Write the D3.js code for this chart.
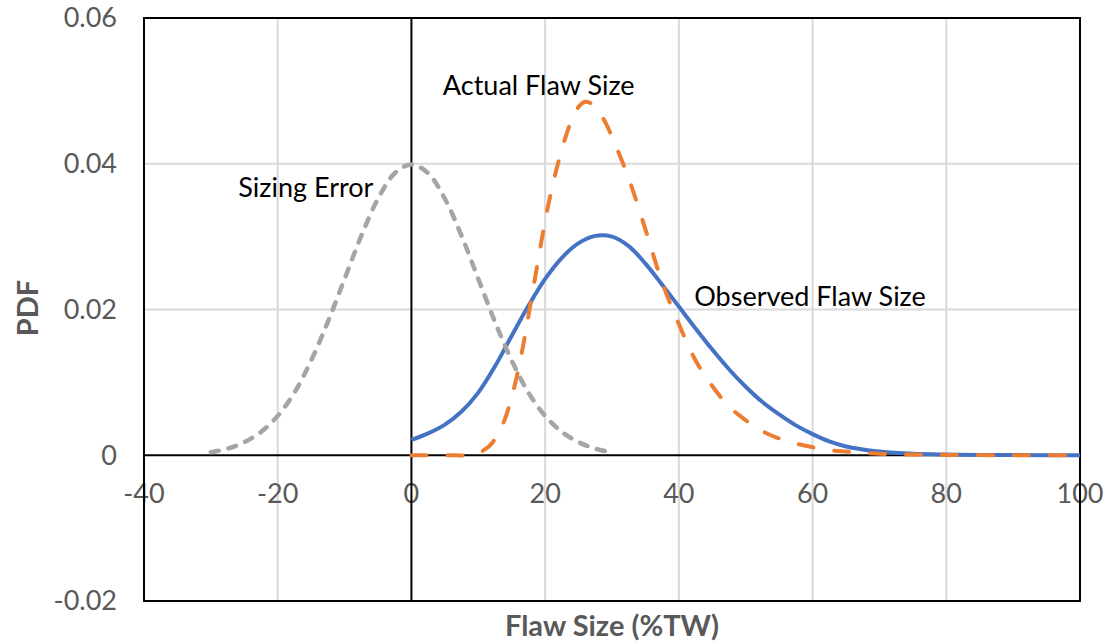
<!DOCTYPE html>
<html>
<head>
<meta charset="utf-8">
<script src="https://cdn.jsdelivr.net/npm/d3@7"></script>
<style>
  html, body { margin: 0; padding: 0; background: #fff; }
  svg { display: block; }
</style>
</head>
<body>
<svg id="chart" width="1106" height="644"></svg>
<script>
// ---- Data ----
const xTicks = [-40, -20, 0, 20, 40, 60, 80, 100];
const xTickLabels = ["-40", "-20", "0", "20", "40", "60", "80", "100"];
const yTicks = [-0.02, 0, 0.02, 0.04, 0.06];
const yTickLabels = ["-0.02", "0", "0.02", "0.04", "0.06"];

// Sizing Error (grey dashed)
const errX = [-30, -27.5, -25, -22.5, -20, -17.5, -15, -12.5, -10, -7.5, -5, -2.5, 0,
              2.5, 5, 7.5, 10, 12.5, 15, 17.5, 20, 22.5, 25, 27.5, 30];
const errPDF = [0.0004, 0.0009, 0.0018, 0.0032, 0.0054, 0.0086, 0.0130, 0.0183, 0.0242, 0.0301, 0.0352, 0.0387, 0.0399,
                0.0387, 0.0352, 0.0301, 0.0242, 0.0183, 0.0130, 0.0086, 0.0054, 0.0032, 0.0018, 0.0009, 0.0004];

// Actual Flaw Size (orange dashed)
const actX = [0, 5, 8, 10, 11, 12, 13, 14, 15, 16, 17, 18, 19, 20, 21, 22, 23, 24, 25, 26, 27, 28, 29, 30, 31,
              32.5, 35, 37.5, 40, 42.5, 45, 47.5, 50, 52.5, 55, 57.5, 60, 62.5, 65, 70, 75, 80, 90, 100];
const actPDF = [0, 0, 0, 0.0003, 0.0008, 0.0016, 0.0030, 0.0050, 0.0080, 0.0118, 0.0165, 0.0218, 0.0270, 0.0322,
                0.0366, 0.0403, 0.0435, 0.0461, 0.0478, 0.0485, 0.0482, 0.0472, 0.0457, 0.0437, 0.0415,
                0.0380, 0.0310, 0.0237, 0.0180, 0.0130, 0.0095, 0.0067, 0.0048, 0.0033, 0.0023, 0.0016, 0.0011,
                0.0007, 0.0005, 0.0002, 0.0001, 0.00005, 0, 0];

// Observed Flaw Size (blue solid)
const obsX = [0, 2.5, 5, 7.5, 10, 12.5, 15, 17.5, 20, 22.5, 25, 27.5, 30, 32.5, 35, 37.5, 40, 42.5, 45, 47.5,
              50, 52.5, 55, 57.5, 60, 62.5, 65, 67.5, 70, 75, 80, 85, 90, 95, 100];
const obsPDF = [0.0021, 0.0030, 0.0042, 0.0060, 0.0086, 0.0122, 0.0164, 0.0205, 0.0242, 0.0271, 0.0291, 0.0301,
                0.0300, 0.0287, 0.0263, 0.0234, 0.0204, 0.0174, 0.0145, 0.0118, 0.0094, 0.0073, 0.0056, 0.0041,
                0.0029, 0.0019, 0.0012, 0.0008, 0.0005, 0.0002, 0.0001, 0.00005, 0.00002, 0.00001, 0.000005];

const labels = [
  { text: "Actual Flaw Size", x: 4.7, y: 0.0494 },
  { text: "Sizing Error", x: -25.9, y: 0.0354 },
  { text: "Observed Flaw Size", x: 42.3, y: 0.0205 }
];

// ---- Layout ----
const plot = { left: 144, right: 1080, top: 18, bottom: 601 };
const svg = d3.select("#chart");
const font = "Lato, 'Open Sans', sans-serif";

const x = d3.scaleLinear().domain([-40, 100]).range([plot.left, plot.right]);
const y = d3.scaleLinear().domain([-0.02, 0.06]).range([plot.bottom, plot.top]);

// gridlines
svg.append("g").selectAll("line").data(xTicks.filter(d => d !== -40 && d !== 100 && d !== 0)).join("line")
  .attr("x1", d => x(d)).attr("x2", d => x(d)).attr("y1", plot.top).attr("y2", plot.bottom)
  .attr("stroke", "#d9d9d9").attr("stroke-width", 2);
svg.append("g").selectAll("line").data(yTicks.filter(d => d !== -0.02 && d !== 0.06 && d !== 0)).join("line")
  .attr("x1", plot.left).attr("x2", plot.right).attr("y1", d => y(d)).attr("y2", d => y(d))
  .attr("stroke", "#d9d9d9").attr("stroke-width", 2);

// tick labels
svg.append("g").selectAll("text").data(xTicks).join("text")
  .attr("x", d => x(d)).attr("y", y(0) + 48)
  .attr("text-anchor", "middle")
  .attr("font-family", font).attr("font-size", 27).attr("fill", "#595959")
  .text((d, i) => xTickLabels[i]);
svg.append("g").selectAll("text").data(yTicks).join("text")
  .attr("x", 117).attr("y", d => y(d)).attr("dy", "0.35em")
  .attr("text-anchor", "end")
  .attr("font-family", font).attr("font-size", 27).attr("fill", "#595959")
  .text((d, i) => yTickLabels[i]);

// axis lines (through zero) and border
svg.append("line").attr("x1", x(0)).attr("x2", x(0)).attr("y1", plot.top).attr("y2", plot.bottom)
  .attr("stroke", "#000").attr("stroke-width", 2);
svg.append("line").attr("x1", plot.left).attr("x2", plot.right).attr("y1", y(0)).attr("y2", y(0))
  .attr("stroke", "#000").attr("stroke-width", 2);
svg.append("rect").attr("x", plot.left).attr("y", plot.top)
  .attr("width", plot.right - plot.left).attr("height", plot.bottom - plot.top)
  .attr("fill", "none").attr("stroke", "#000").attr("stroke-width", 2);

// series
const line = d3.line().x(d => x(d[0])).y(d => y(d[1])).curve(d3.curveCatmullRom.alpha(0.5));
const zip = (a, b) => a.map((v, i) => [v, b[i]]);

svg.append("path").datum(zip(obsX, obsPDF)).attr("d", line)
  .attr("fill", "none").attr("stroke", "#4472c4").attr("stroke-width", 4);
svg.append("path").datum(zip(errX, errPDF)).attr("d", line)
  .attr("fill", "none").attr("stroke", "#a5a5a5").attr("stroke-width", 4.5)
  .attr("stroke-dasharray", "8,10").attr("stroke-linecap", "round");
svg.append("path").datum(zip(actX, actPDF)).attr("d", line)
  .attr("fill", "none").attr("stroke", "#ed7d31").attr("stroke-width", 4)
  .attr("stroke-dasharray", "15,21").attr("stroke-linecap", "round");

// annotations
svg.append("g").selectAll("text").data(labels).join("text")
  .attr("x", d => x(d.x)).attr("y", d => y(d.y))
  .attr("font-family", font).attr("font-size", 27).attr("fill", "#000")
  .text(d => d.text);

// axis titles
svg.append("text").attr("transform", "translate(38,308) rotate(-90)")
  .attr("text-anchor", "middle").attr("font-family", font).attr("font-weight", "bold")
  .attr("font-size", 29).attr("fill", "#595959").text("PDF");
svg.append("text").attr("x", 612).attr("y", 636)
  .attr("text-anchor", "middle").attr("font-family", font).attr("font-weight", "bold")
  .attr("font-size", 29).attr("fill", "#595959").text("Flaw Size (%TW)");
</script>
</body>
</html>
